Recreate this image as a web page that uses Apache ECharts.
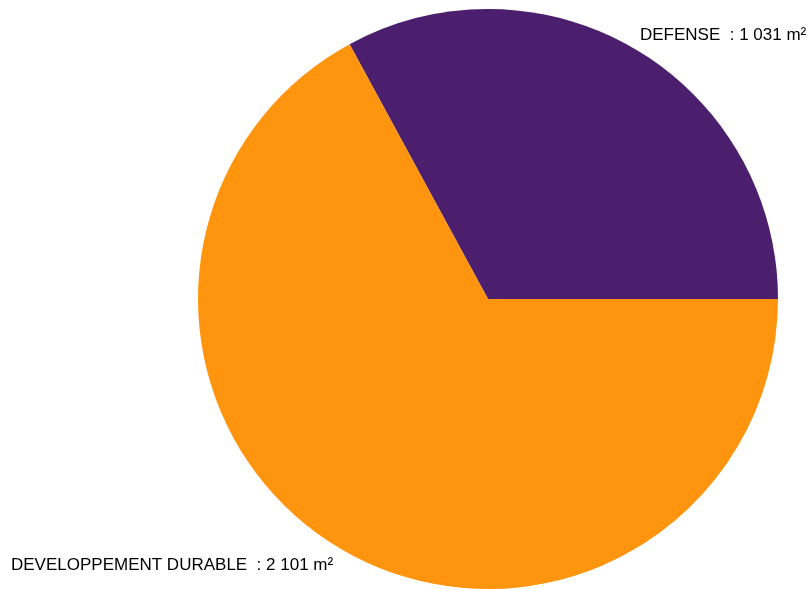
<!DOCTYPE html>
<html><head><meta charset="utf-8">
<script src="https://cdn.jsdelivr.net/npm/echarts@6/dist/echarts.min.js"></script>
<style>html,body{margin:0;padding:0;background:#fff}#c{width:810px;height:589px}</style>
</head><body><div id="c"></div>
<script>
const categories = ['DEFENSE', 'DEVELOPPEMENT DURABLE'];
const values = [1031, 2101];
const colors = ['#4B1F6E', '#FF950E'];
const labelPos = [[640, 35], [11, 565]];

function fmt(n){ return String(n).replace(/\B(?=(\d{3})+(?!\d))/g, ' '); }

const chart = echarts.init(document.getElementById('c'), null, {renderer:'canvas'});
chart.setOption({
  animation: false,
  series: [{
    type: 'pie',
    center: [488, 299],
    radius: 290,
    startAngle: 0,
    clockwise: false,
    data: categories.map((c,i)=>({name:c, value:values[i], itemStyle:{color:colors[i]}})),
    label: {
      show: true,
      position: 'outside',
      formatter: p => p.name + '  : ' + fmt(p.value) + ' m²',
      fontFamily: 'Liberation Sans',
      fontSize: 17,
      color: '#000',
      overflow: 'none',
      width: 400
    },
    labelLine: {show: false},
    labelLayout: function(params){
      const pos = labelPos[params.dataIndex];
      return {x: pos[0], y: pos[1], align: 'left', verticalAlign: 'middle', hideOverlap: false, moveOverlap: false};
    },
    emphasis: {disabled: true}
  }]
});
</script></body></html>
